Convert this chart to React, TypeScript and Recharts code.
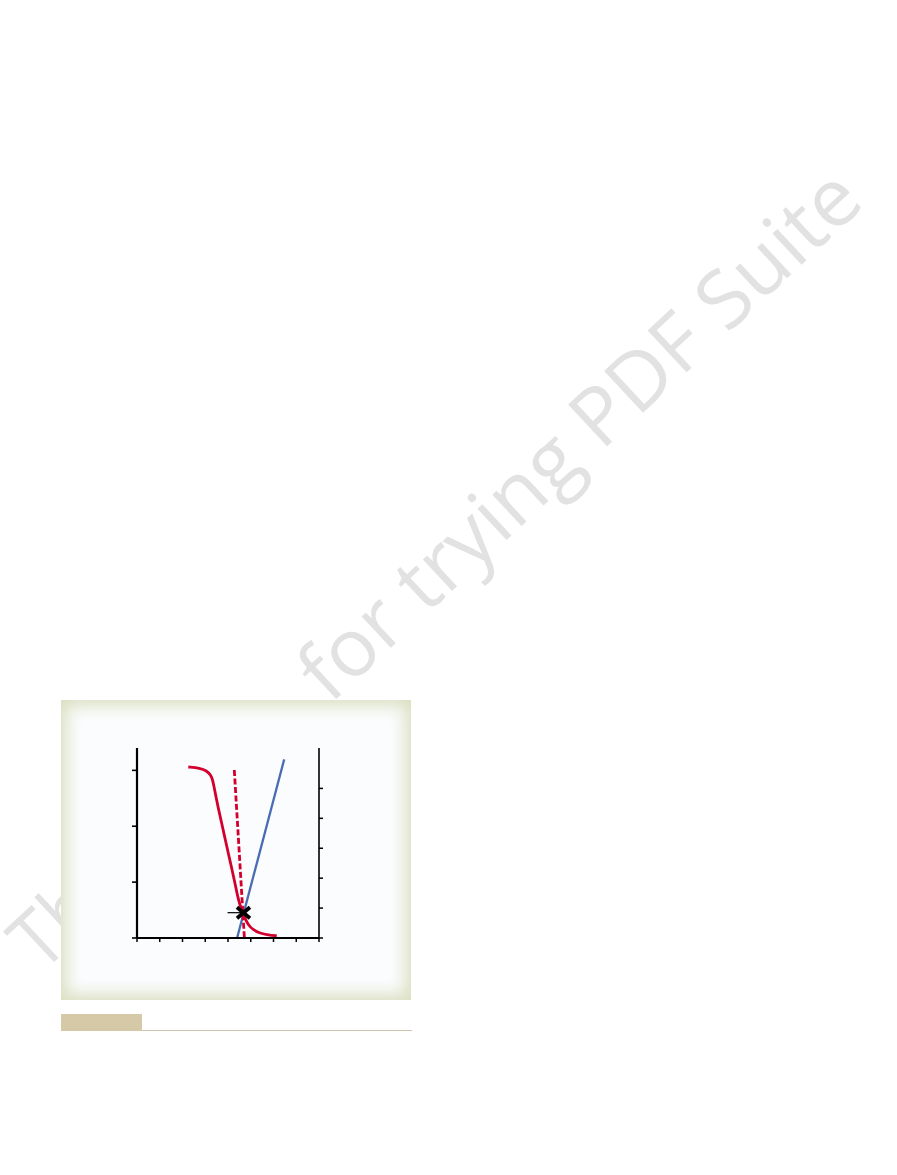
import React from 'react';
import { ComposedChart, Line, Scatter, XAxis, YAxis } from 'recharts';

const xTicks = [0, 1, 2, 3, 4, 5, 6, 7, 8];
const leftTicks = [0, 1, 2, 3];
const rightTicks = [0, 1, 2, 3, 4, 5];

const curveX = [2.255, 2.769, 3.064, 3.24, 3.327, 3.385, 3.473, 3.574, 3.723, 3.868, 4.013, 4.163, 4.308, 4.426, 4.527, 4.629, 4.747, 4.892, 5.112, 5.407, 5.771, 6.141];
const curveY = [3.06, 3.042, 2.994, 2.917, 2.828, 2.708, 2.529, 2.321, 2.052, 1.784, 1.516, 1.247, 0.979, 0.74, 0.59, 0.47, 0.352, 0.232, 0.143, 0.084, 0.054, 0.041];
const dashedX = [4.277, 4.72];
const dashedY = [3.006, 0];
const blueX = [4.4, 6.47];
const blueY = [0, 5.97];
const markerX = [4.68];
const markerY = [0.453];
const pointerX = [3.98, 4.68];
const pointerY = [0.453, 0.453];

const watermarkStart = 'Thank you';
const watermarkEnd = 'for trying PDF Suite';

const zip = (xs: number[], ys: number[]) => xs.map((x, i) => ({ x, y: ys[i] }));

const curveData = zip(curveX, curveY);
const dashedData = zip(dashedX, dashedY);
const blueData = zip(blueX, blueY);
const markerData = zip(markerX, markerY);
const pointerData = zip(pointerX, pointerY);

const RED = '#d2002c';
const BLUE = '#4a6cb2';

const CrossShape = (props: any) => {
  const { cx, cy } = props;
  if (cx == null || cy == null) return null;
  return (
    <g>
      <line x1={cx - 6.5} y1={cy - 5.5} x2={cx + 6.5} y2={cy + 5.5} stroke="#000" strokeWidth={3.8} />
      <line x1={cx - 6.5} y1={cy + 5.5} x2={cx + 6.5} y2={cy - 5.5} stroke="#000" strokeWidth={3.8} />
    </g>
  );
};

const blank = () => '';

export default function App() {
  return (
    <div style={{ position: 'absolute', left: 0, top: 0, width: 897, height: 1175, background: '#ffffff', overflow: 'hidden' }}>
      <svg width={897} height={1175} style={{ position: 'absolute', left: 0, top: 0 }}>
        <g transform="rotate(-43 24 990)" fontFamily="'Open Sans', sans-serif" fontSize={80} fill="#e2e2e2">
          <text x={48} y={990} textLength={355} lengthAdjust="spacingAndGlyphs">{watermarkStart}</text>
          <text x={442} y={990} textLength={734} lengthAdjust="spacingAndGlyphs">{watermarkEnd}</text>
        </g>
      </svg>
      <div
        style={{
          position: 'absolute',
          left: 61,
          top: 700,
          width: 350,
          height: 300,
          background: '#fbfcfe',
          boxShadow: 'inset 0 0 16px 6px #dbe0c2',
        }}
      />
      <div style={{ position: 'absolute', left: 61, top: 1014, width: 81, height: 17, background: '#d5c9a7' }} />
      <div style={{ position: 'absolute', left: 142, top: 1030, width: 270, height: 1, background: '#cbc6ad' }} />
      <div style={{ position: 'absolute', left: 100, top: 720 }}>
        <ComposedChart width={260} height={260} margin={{ top: 28, right: 0, bottom: 0, left: 0 }}>
          <XAxis
            type="number"
            dataKey="x"
            domain={[0, 8]}
            ticks={xTicks}
            tickSize={4}
            height={42}
            tickFormatter={blank}
            axisLine={{ stroke: '#000', strokeWidth: 2 }}
            tickLine={{ stroke: '#000', strokeWidth: 1.5 }}
          />
          <YAxis
            yAxisId="left"
            type="number"
            domain={[0, 3.4]}
            ticks={leftTicks}
            tickSize={5}
            width={37}
            tickFormatter={blank}
            axisLine={{ stroke: '#000', strokeWidth: 2.2 }}
            tickLine={{ stroke: '#000', strokeWidth: 1.6 }}
          />
          <YAxis
            yAxisId="right"
            orientation="right"
            type="number"
            domain={[0, 6.35]}
            ticks={rightTicks}
            tickSize={4}
            width={41}
            tickFormatter={blank}
            axisLine={{ stroke: '#000', strokeWidth: 1.6 }}
            tickLine={{ stroke: '#000', strokeWidth: 1.5 }}
          />
          <Line
            yAxisId="right"
            data={blueData}
            dataKey="y"
            type="linear"
            stroke={BLUE}
            strokeWidth={2.3}
            dot={false}
            isAnimationActive={false}
          />
          <Line
            yAxisId="left"
            data={curveData}
            dataKey="y"
            type="basis"
            stroke={RED}
            strokeWidth={2.8}
            dot={false}
            isAnimationActive={false}
          />
          <Line
            yAxisId="left"
            data={dashedData}
            dataKey="y"
            type="linear"
            stroke={RED}
            strokeWidth={2.8}
            strokeDasharray="6 2.5"
            dot={false}
            isAnimationActive={false}
          />
          <Line
            yAxisId="left"
            data={pointerData}
            dataKey="y"
            type="linear"
            stroke="#000"
            strokeWidth={1.2}
            dot={false}
            isAnimationActive={false}
          />
          <Scatter
            yAxisId="left"
            data={markerData}
            dataKey="y"
            shape={CrossShape}
            isAnimationActive={false}
          />
        </ComposedChart>
      </div>
    </div>
  );
}
